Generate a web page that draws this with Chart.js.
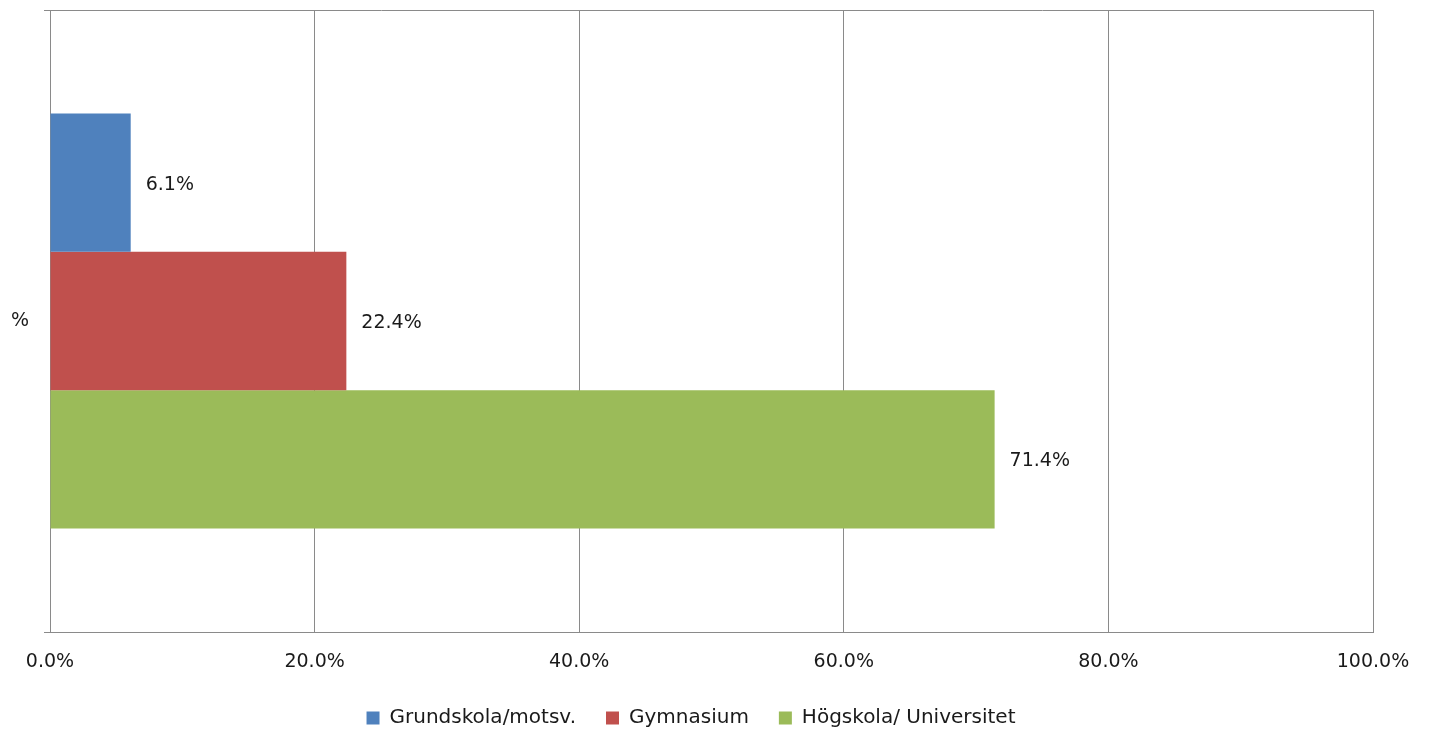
<!DOCTYPE html>
<html>
<head>
<meta charset="utf-8">
<script src="https://cdn.jsdelivr.net/npm/chart.js@4"></script>
<style>
  html, body { margin: 0; padding: 0; background: #fff; }
  #wrap { width: 1429px; height: 734px; }
</style>
</head>
<body>
<div id="wrap"><canvas id="c" width="1429" height="734"></canvas></div>
<script>
const categories = ['%'];
const seriesNames = ['Grundskola/motsv.', 'Gymnasium', 'Högskola/ Universitet'];
const grundskola = [6.1];
const gymnasium = [22.4];
const hogskola = [71.4];
const xTicks = [0, 20, 40, 60, 80, 100];
const colors = ['#4F81BD', '#C0504D', '#9BBB59'];

const FONT = "'DejaVu Sans', sans-serif";
const GRID = '#8a8a8a';

const labelPlugin = {
  id: 'valueLabels',
  afterDatasetsDraw(chart) {
    const ctx = chart.ctx;
    ctx.save();
    ctx.font = "19px " + FONT;
    ctx.fillStyle = '#1a1a1a';
    ctx.textAlign = 'left';
    ctx.textBaseline = 'middle';
    chart.data.datasets.forEach((ds, i) => {
      const meta = chart.getDatasetMeta(i);
      meta.data.forEach((el, j) => {
        ctx.fillText(ds.data[j].toFixed(1) + '%', el.x + 15, el.y + 2);
      });
    });
    ctx.restore();
  }
};

new Chart(document.getElementById('c'), {
  type: 'bar',
  data: {
    labels: categories,
    datasets: [
      { label: seriesNames[0], data: grundskola, backgroundColor: colors[0] },
      { label: seriesNames[1], data: gymnasium, backgroundColor: colors[1] },
      { label: seriesNames[2], data: hogskola, backgroundColor: colors[2] }
    ]
  },
  options: {
    indexAxis: 'y',
    responsive: false,
    animation: false,
    devicePixelRatio: 1,
    layout: { padding: { left: 9, right: 56, top: 10, bottom: -4 } },
    datasets: { bar: { categoryPercentage: 0.667, barPercentage: 1.0 } },
    scales: {
      x: {
        min: 0, max: 100,
        afterBuildTicks(scale) { scale.ticks = xTicks.map(v => ({ value: v })); },
        ticks: {
          callback: v => v.toFixed(1) + '%',
          font: { family: FONT, size: 19 },
          color: '#1a1a1a',
          padding: 19,
          maxRotation: 0
        },
        grid: { color: GRID, drawTicks: false, lineWidth: 1 },
        border: { color: GRID },
        afterFit(scale) { scale.height = 46; }
      },
      y: {
        ticks: {
          font: { family: FONT, size: 19 },
          color: '#1a1a1a',
          padding: 15
        },
        grid: { color: GRID, tickLength: 6, offset: true },
        border: { color: GRID },
        afterFit(scale) { scale.width = 41; scale.paddingTop = 0; scale.paddingBottom = 0; }
      }
    },
    plugins: {
      legend: {
        position: 'bottom',
        labels: {
          font: { family: FONT, size: 20 },
          color: '#1a1a1a',
          boxWidth: 13,
          boxHeight: 13,
          padding: 30
        }
      },
      tooltip: { enabled: false }
    }
  },
  plugins: [labelPlugin]
});
</script>
</body>
</html>
